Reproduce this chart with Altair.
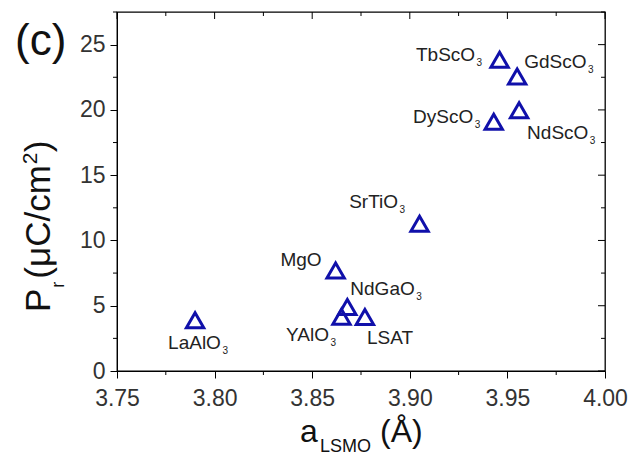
import altair as alt
import pandas as pd

# ---- data ----
substrates = ["LaAlO", "MgO", "NdGaO", "YAlO", "LSAT", "SrTiO",
              "DyScO", "NdScO", "GdScO", "TbScO"]
subscript = ["3", "", "3", "3", "", "3", "3", "3", "3", "3"]
a_lsmo = [3.790, 3.862, 3.868, 3.865, 3.877, 3.905, 3.943, 3.956, 3.955, 3.946]
p_r = [3.89, 7.70, 4.91, 4.15, 4.14, 11.28, 19.09, 19.98, 22.56, 23.85]

x_major = [3.75, 3.80, 3.85, 3.90, 3.95, 4.00]
x_minor = [3.775, 3.825, 3.875, 3.925, 3.975]
y_major = [0, 5, 10, 15, 20, 25]
y_minor = [2.5, 7.5, 12.5, 17.5, 22.5, 27.5]

# ---- layout / style ----
W, H = 488, 359
BLUE = "#1010aa"
FONT = "Liberation Sans"
LBL = 19
SUB = 10

# label placement: (align, dx of text edge from marker, dy of baseline)
place = {
    "TbScO": ("right", -23, 1),
    "GdScO": ("left", 7, -8),
    "DyScO": ("right", -19, 1),
    "NdScO": ("left", 8, 29),
    "SrTiO": ("right", -20, -16),
    "MgO": ("right", -14, -4),
    "NdGaO": ("left", 3, -12),
    "YAlO": ("right", -11, 24),
    "LSAT": ("left", 2, 27),
    "LaAlO": ("left", -27, 29),
}
wid = {"T": 611, "b": 556, "S": 667, "c": 500, "O": 778, "G": 778, "d": 556,
       "D": 722, "y": 500, "N": 722, "r": 333, "i": 222, "M": 833, "g": 556,
       "a": 556, "L": 556, "A": 667, "l": 222, "Y": 667}


def tw(s, fs):
    return sum(wid.get(ch, 556) for ch in s) * fs / 1000.0


df = pd.DataFrame({"name": substrates, "sub": subscript, "a": a_lsmo, "p": p_r})

xs = alt.Scale(domain=[3.75, 4.00], nice=False, zero=False)
ys = alt.Scale(domain=[0, 27.5], nice=False, zero=False)

base = alt.Chart(df)

points = base.mark_point(shape="triangle-up", filled=False, size=300, opacity=1,
                         strokeWidth=3, color=BLUE).encode(
    x=alt.X("a:Q", scale=xs, axis=alt.Axis(
        values=x_major, format=".2f", title=None, grid=False, tickSize=7,
        tickColor="black", domainColor="black", labelFontSize=23,
        labelFont=FONT, labelColor="#333333", labelPadding=9,
        labelFlush=False, labelOverlap=False)),
    y=alt.Y("p:Q", scale=ys, axis=alt.Axis(
        values=y_major, title=None, grid=False, tickSize=7,
        tickColor="black", domainColor="black", labelFontSize=23,
        labelFont=FONT, labelColor="#333333", labelPadding=5,
        labelFlush=False, labelOverlap=False)),
)

layers = [points]

for name, sub in zip(substrates, subscript):
    align, dx, dy = place[name]
    d = base.transform_filter(alt.datum.name == name)
    if align == "right":
        if sub:
            sub_dx = dx
            main_dx = dx - 1.5
        else:
            main_dx = dx
    else:
        main_dx = dx
        sub_dx = dx + tw(name, LBL) + 1.5
    layers.append(d.mark_text(align=align, baseline="alphabetic", dx=main_dx,
                              dy=dy, fontSize=LBL, font=FONT, color="#222222").encode(
        x=alt.X("a:Q", scale=xs), y=alt.Y("p:Q", scale=ys), text="name:N"))
    if sub:
        layers.append(d.mark_text(align="left", baseline="alphabetic", dx=sub_dx,
                                  dy=dy + 5, fontSize=SUB, font=FONT,
                                  color="#222222").encode(
            x=alt.X("a:Q", scale=xs), y=alt.Y("p:Q", scale=ys), text="sub:N"))

# minor/mirrored ticks
tx_major = alt.Chart(pd.DataFrame({"v": x_major}))
tx_minor = alt.Chart(pd.DataFrame({"v": x_minor}))
ty_major = alt.Chart(pd.DataFrame({"v": y_major}))
ty_minor = alt.Chart(pd.DataFrame({"v": y_minor}))
tick_style = dict(color="black", strokeWidth=1)

layers += [
    tx_minor.mark_rule(**tick_style).encode(x=alt.X("v:Q", scale=xs), y=alt.value(H), y2=alt.value(H + 4)),
    tx_major.mark_rule(**tick_style).encode(x=alt.X("v:Q", scale=xs), y=alt.value(0), y2=alt.value(7)),
    tx_minor.mark_rule(**tick_style).encode(x=alt.X("v:Q", scale=xs), y=alt.value(0), y2=alt.value(4)),
    ty_minor.mark_rule(**tick_style).encode(y=alt.Y("v:Q", scale=ys), x=alt.value(-4), x2=alt.value(0)),
    ty_major.mark_rule(**tick_style).encode(y=alt.Y("v:Q", scale=ys), x=alt.value(W), x2=alt.value(W - 7)),
    ty_minor.mark_rule(**tick_style).encode(y=alt.Y("v:Q", scale=ys), x=alt.value(W), x2=alt.value(W - 4)),
]

# titles made of text pieces
one = alt.Chart(pd.DataFrame({"k": [0]}))


def txt(s, x, y, fs, angle=0, align="left"):
    return one.mark_text(text=s, align=align, baseline="alphabetic", fontSize=fs,
                         font=FONT, color="#111111", angle=angle).encode(
        x=alt.value(x), y=alt.value(y))


# x title: a_LSMO (Å)
layers += [
    txt("a", 183, 430, 32),
    txt("LSMO", 203, 440, 18),
    txt("(Å)", 263, 430, 32),
]
# y title: P_r (μC/cm²)  rotated
yb = -67   # baseline x
start = 300
fsy = 35
p_end = start - 0.667 * fsy
paren_start = p_end - 10
paren_end = paren_start - 3242 * fsy / 1000
layers += [
    txt("P", yb, start, fsy, angle=270),
    txt("r", yb + 14, p_end - 1, 18, angle=270),
    txt("(μC/cm", yb, paren_start, fsy, angle=270),
    txt("2", yb - 13, paren_end - 1, 21, angle=270),
    txt(")", yb, paren_end - 13, fsy, angle=270),
]
# panel label
layers.append(txt("(c)", -102, 43, 44))

chart = alt.layer(*layers).properties(
    width=W, height=H,
    autosize=alt.AutoSizeParams(type="none"),
    padding={"left": 117, "top": 12, "right": 26, "bottom": 84},
    background="white",
).configure_view(stroke="black", strokeWidth=1.3)

chart.save("out.html", embed_options={"renderer": "svg", "actions": False})
